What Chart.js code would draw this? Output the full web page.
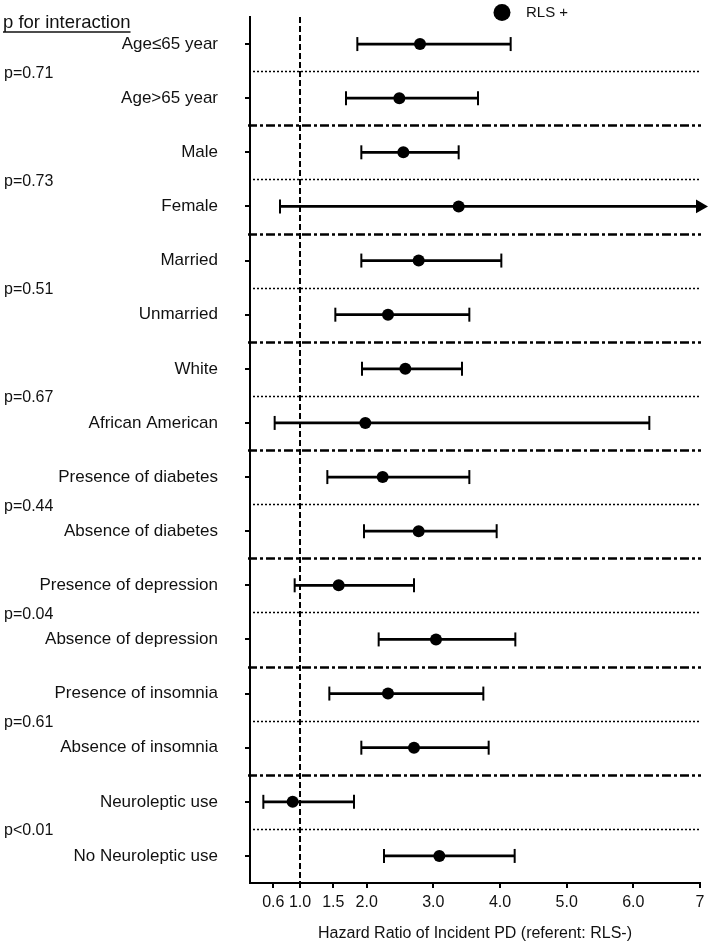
<!DOCTYPE html>
<html>
<head>
<meta charset="utf-8">
<script src="https://cdn.jsdelivr.net/npm/chart.js@4.4.0/dist/chart.umd.min.js"></script>
<style>
  html, body { margin: 0; padding: 0; background: #fff; }
  #wrap { width: 714px; height: 944px; }
</style>
</head>
<body>
<div id="wrap"><canvas id="forest"></canvas></div>
<script>
const subgroups = ['Age≤65 year', 'Age>65 year', 'Male', 'Female', 'Married', 'Unmarried',
    'White', 'African American', 'Presence of diabetes', 'Absence of diabetes',
    'Presence of depression', 'Absence of depression', 'Presence of insomnia',
    'Absence of insomnia', 'Neuroleptic use', 'No Neuroleptic use'];
const hazardRatio = [2.80, 2.49, 2.55, 3.38, 2.78, 2.32, 2.58, 1.98, 2.24, 2.78, 1.58, 3.04, 2.32, 2.71, 0.89, 3.09];
const ciLower = [1.86, 1.69, 1.92, 0.70, 1.92, 1.53, 1.93, 0.62, 1.41, 1.96, 0.92, 2.18, 1.44, 1.92, 0.45, 2.26];
const ciUpper = [4.16, 3.67, 3.38, 7.60, 4.02, 3.54, 3.43, 6.24, 3.54, 3.95, 2.71, 4.23, 3.75, 3.83, 1.81, 4.22];
const interactionP = ['p=0.71', 'p=0.73', 'p=0.51', 'p=0.67', 'p=0.44', 'p=0.04', 'p=0.61', 'p<0.01'];
const xTicks = [0.6, 1.0, 1.5, 2.0, 3.0, 4.0, 5.0, 6.0, 7];
const xTickLabels = ['0.6', '1.0', '1.5', '2.0', '3.0', '4.0', '5.0', '6.0', '7'];
const X_MIN = 0.25;
const X_MAX = 7;

const FONT = "'Liberation Sans', Arial, sans-serif";

// caps at both ends of each CI, unless the upper end runs off the axis
let caps = [];
let arrows = [];
subgroups.forEach((name, i) => {
    caps.push({x: ciLower[i], y: name});
    if (ciUpper[i] > X_MAX) {
        arrows.push({x: X_MAX, y: name});
    } else {
        caps.push({x: ciUpper[i], y: name});
    }
});

const forestDecor = {
    id: 'forestDecor',
    beforeDatasetsDraw(chart) {
        const {ctx, chartArea: area, scales: {x, y}} = chart;
        ctx.save();
        ctx.strokeStyle = '#000';

        // dotted line inside a pair, dash-dot line between pairs
        for (let i = 0; i < subgroups.length - 1; i++) {
            const py = Math.round(y.getPixelForValue(i + 0.5)) + 0.5;
            ctx.beginPath();
            if (i % 2 === 0) {
                ctx.setLineDash([2, 2]);
                ctx.lineWidth = 1.5;
                ctx.moveTo(area.left + 3, py);
            } else {
                ctx.setLineDash([9, 3, 3, 3]);
                ctx.lineWidth = 2.5;
                ctx.moveTo(area.left - 2, py);
            }
            ctx.lineTo(area.right + 1, py);
            ctx.stroke();
        }

        // reference line at HR = 1
        const px = Math.round(x.getPixelForValue(1));
        ctx.setLineDash([6, 3]);
        ctx.lineWidth = 2;
        ctx.beginPath();
        ctx.moveTo(px, area.top);
        ctx.lineTo(px, area.bottom);
        ctx.stroke();
        ctx.restore();
    },
    afterDraw(chart) {
        const {ctx, scales: {y}} = chart;
        ctx.save();
        ctx.fillStyle = '#111';
        ctx.strokeStyle = '#111';

        // heading
        ctx.font = '18.5px ' + FONT;
        ctx.textAlign = 'left';
        ctx.textBaseline = 'alphabetic';
        ctx.fillText('p for interaction', 3, 28);
        const w = ctx.measureText('p for interaction').width;
        ctx.lineWidth = 1.5;
        ctx.beginPath();
        ctx.moveTo(3, 32);
        ctx.lineTo(3 + w, 32);
        ctx.stroke();

        // p values, between the two rows of each pair
        ctx.font = '16px ' + FONT;
        ctx.textBaseline = 'middle';
        interactionP.forEach((p, k) => {
            ctx.fillText(p, 4, y.getPixelForValue(k * 2 + 0.5) + 2);
        });

        // legend
        const label = chart.data.datasets[0].label;
        ctx.fillStyle = '#000';
        ctx.beginPath();
        ctx.arc(502, 12.5, 8.5, 0, Math.PI * 2);
        ctx.fill();
        ctx.fillStyle = '#111';
        ctx.font = '15px ' + FONT;
        ctx.fillText(label, 526, 13);
        ctx.restore();
    }
};

new Chart(document.getElementById('forest'), {
    type: 'bar',
    data: {
        labels: subgroups,
        datasets: [{
            type: 'scatter',
            label: 'RLS +',
            data: hazardRatio.map((v, i) => ({x: v, y: subgroups[i]})),
            pointRadius: 6,
            pointBackgroundColor: '#000',
            pointBorderColor: '#000',
            pointBorderWidth: 0,
            order: 0
        }, {
            type: 'scatter',
            label: 'arrow',
            data: arrows,
            pointStyle: 'triangle',
            rotation: 90,
            pointRadius: 8,
            pointBackgroundColor: '#000',
            pointBorderColor: '#000',
            pointBorderWidth: 0,
            clip: false,
            order: 1
        }, {
            type: 'scatter',
            label: 'caps',
            data: caps,
            pointStyle: 'line',
            rotation: 90,
            pointRadius: 7,
            pointBorderColor: '#000',
            pointBorderWidth: 2,
            order: 2
        }, {
            type: 'bar',
            label: 'ci',
            data: ciLower.map((lo, i) => [lo, Math.min(ciUpper[i], X_MAX)]),
            backgroundColor: '#000',
            borderWidth: 0,
            barThickness: 2,
            order: 3
        }]
    },
    options: {
        indexAxis: 'y',
        responsive: true,
        maintainAspectRatio: false,
        animation: false,
        layout: {
            padding: {top: 17, right: 14, left: 0, bottom: 0}
        },
        plugins: {
            legend: {display: false},
            tooltip: {enabled: false}
        },
        scales: {
            x: {
                type: 'linear',
                position: 'bottom',
                offset: false,
                min: X_MIN,
                max: X_MAX,
                afterBuildTicks: (scale) => {
                    scale.ticks = xTicks.map(v => ({value: v}));
                },
                afterFit: (scale) => {
                    scale.height = 61;
                    scale.paddingLeft = 0;
                    scale.paddingRight = 0;
                },
                ticks: {
                    autoSkip: false,
                    maxRotation: 0,
                    padding: 5,
                    color: '#111',
                    font: {family: FONT, size: 16},
                    callback: (value, index) => xTickLabels[index]
                },
                grid: {
                    offset: false,
                    drawOnChartArea: false,
                    drawTicks: true,
                    tickLength: 5,
                    color: '#000',
                    lineWidth: 2
                },
                border: {display: true, color: '#000', width: 2},
                title: {
                    display: true,
                    text: 'Hazard Ratio of Incident PD (referent: RLS-)',
                    color: '#111',
                    font: {family: FONT, size: 16},
                    padding: {top: 0, bottom: 1}
                }
            },
            y: {
                type: 'category',
                offset: true,
                afterFit: (scale) => {
                    scale.width = 250;
                    scale.paddingTop = 0;
                    scale.paddingBottom = 0;
                },
                ticks: {
                    autoSkip: false,
                    padding: 27,
                    color: '#111',
                    font: {family: FONT, size: 17}
                },
                grid: {
                    offset: false,
                    drawOnChartArea: false,
                    drawTicks: true,
                    tickLength: 5,
                    color: '#000',
                    lineWidth: 2
                },
                border: {display: true, color: '#000', width: 2}
            }
        }
    },
    plugins: [forestDecor]
});
</script>
</body>
</html>
